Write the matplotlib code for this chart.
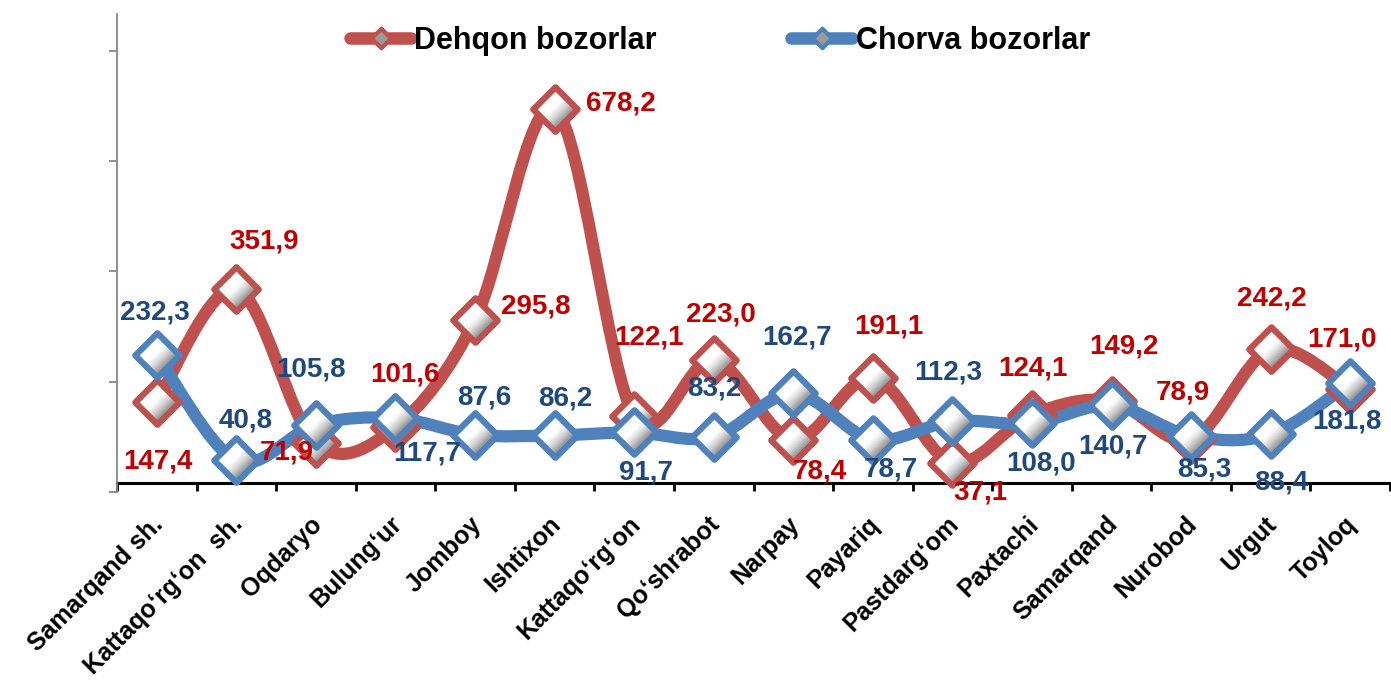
import numpy as np
import matplotlib
matplotlib.use("Agg")
import matplotlib.pyplot as plt
import matplotlib.transforms as mtrans
from matplotlib.path import Path
from matplotlib.patches import PathPatch
from matplotlib.markers import MarkerStyle
from matplotlib.lines import Line2D

plt.rcParams["font.family"] = ["Liberation Sans", "DejaVu Sans"]

districts = [
    "Samarqand sh.", "Kattaqo\u2018rg\u2018on  sh.", "Oqdaryo", "Bulung\u2018ur",
    "Jomboy", "Ishtixon", "Kattaqo\u2018rg\u2018on", "Qo\u2018shrabot", "Narpay",
    "Payariq", "Pastdarg\u2018om", "Paxtachi", "Samarqand", "Nurobod", "Urgut",
    "Toyloq",
]
dehqon = [147.4, 351.9, 71.9, 101.6, 295.8, 678.2, 122.1, 223.0, 78.4, 191.1,
          37.1, 124.1, 149.2, 78.9, 242.2, 171.0]
chorva = [232.3, 40.8, 105.8, 117.7, 87.6, 86.2, 91.7, 83.2, 162.7, 78.7,
          112.3, 108.0, 140.7, 85.3, 88.4, 181.8]

# label offsets in pixels (dx right, dy down) relative to the marker
red_off = [(1, 60), (28, -47), (-29, 9), (10, -52), (61, -13), (66, -5),
           (15, -78), (7, -46), (27, 32), (16, -51), (28, 30), (1, -46),
           (12, -54), (-8, -47), (1, -51), (-8, -49)]
blue_off = [(-2, -42), (9, -40), (-5, -55), (32, 35), (9, -37), (11, -37),
            (12, 40), (1, -49), (4, -56), (18, 30), (-4, -49), (9, 40),
            (1, 41), (13, 34), (11, 48), (-3, 39)]

RED_LINE, RED_TXT = "#C0504D", "#C00000"
BLUE_LINE, BLUE_TXT = "#4F81BD", "#1F497D"


def smooth_path(xs, ys):
    # Excel-like smoothed line: cubic Bezier through every point
    p = np.column_stack([xs, ys]).astype(float)
    n = len(p)
    verts = [p[0]]
    codes = [Path.MOVETO]
    for i in range(n - 1):
        prev = p[max(i - 1, 0)]
        nxt = p[min(i + 2, n - 1)]
        c1 = p[i] + (p[i + 1] - prev) / 6.0
        c2 = p[i + 1] - (nxt - p[i]) / 6.0
        verts += [c1, c2, p[i + 1]]
        codes += [Path.CURVE4] * 3
    return Path(verts, codes)


def band_marker(u0):
    # part of a diamond with x - y >= u0 (always reaches the full extent)
    pts = [(u0, -1), (1, -1), (1, 1), (u0, 1), (u0, -1)]
    verts = [((u + v) / 2, (v - u) / 2) for u, v in pts]
    return MarkerStyle(Path(verts, closed=True))


diamond = MarkerStyle(Path([(-1, 0), (0, -1), (1, 0), (0, 1), (-1, 0)], closed=True),
                      joinstyle="miter")


def draw_markers(ax, xs, ys, edge, ms=32, mew=4.5):
    for u0 in np.linspace(-1, 0.92, 16):
        t = np.clip((u0 + 0.25) / 1.2, 0, 1) ** 1.3
        g = 1.0 - 0.55 * t
        ax.plot(xs, ys, ls="none", marker=band_marker(u0), ms=ms,
                mfc=(g, g, g), mew=0, clip_on=False, zorder=4)
    ax.plot(xs, ys, ls="none", marker=diamond, ms=ms, mfc="none", mec=edge,
            mew=mew, clip_on=False, zorder=4)


fig = plt.figure(figsize=(13.91, 6.83), dpi=100)
ax = fig.add_axes([117 / 1391, 0.2795, 1273 / 1391, 0.6997])

x = np.arange(len(districts))
ax.set_xlim(-0.5, len(districts) - 0.5)
ax.set_ylim(-16.5, 850)

for vals, col in ((dehqon, RED_LINE), (chorva, BLUE_LINE)):
    patch = PathPatch(smooth_path(x, vals), fill=False, edgecolor=col, lw=8.8,
                      capstyle="round", joinstyle="round", clip_on=False,
                      zorder=3)
    ax.add_patch(patch)
    draw_markers(ax, x, vals, col)

for vals, offs, col in ((dehqon, red_off, RED_TXT), (chorva, blue_off, BLUE_TXT)):
    for i, v in enumerate(vals):
        dx, dy = offs[i]
        ax.annotate(f"{v:.1f}".replace(".", ","), (i, v), xytext=(dx, -dy),
                    textcoords="offset pixels", ha="center", va="center",
                    fontsize=20, fontweight="bold", color=col, zorder=6,
                    annotation_clip=False)

# axes styling
for s in ("top", "right"):
    ax.spines[s].set_visible(False)
ax.spines["bottom"].set_position(("data", 0))
ax.spines["bottom"].set_color("black")
ax.spines["bottom"].set_linewidth(2.2)
ax.spines["bottom"].set_zorder(2)
ax.spines["left"].set_color("#888888")
ax.spines["left"].set_linewidth(1.3)

ax.set_yticks(np.arange(-16.5, 850, 200))
ax.tick_params(axis="y", direction="out", length=6, width=1.3,
               color="#888888", labelleft=False)

ax.set_xticks(np.arange(-0.5, len(districts), 1.0))
ax.tick_params(axis="x", which="major", direction="out", length=6, width=2,
               color="black", labelbottom=False)
ax.set_xticks(x, minor=True)
labels = ax.set_xticklabels(districts, minor=True, rotation=45, ha="right",
                            va="top", rotation_mode="anchor", fontsize=18,
                            fontweight="bold")
ax.tick_params(axis="x", which="minor", length=0, pad=21)
shift = mtrans.ScaledTranslation(-6 / 100, 0, fig.dpi_scale_trans)
for lab in labels:
    lab.set_transform(lab.get_transform() + shift)

handles = [
    Line2D([], [], color=c, lw=9, solid_capstyle="round", marker=diamond,
           ms=14, mfc="#9a9a9a", mec=c, mew=3)
    for c in (RED_LINE, BLUE_LINE)
]
fig.legend(handles, ["Dehqon bozorlar", "Chorva bozorlar"], loc="center",
           bbox_to_anchor=(720 / 1391, 0.940), ncol=2, frameon=False,
           prop={"size": 22, "weight": "bold"}, handlelength=2.0,
           handletextpad=0.1, columnspacing=4.4, borderpad=0)

fig.savefig("out.png", dpi=100)
